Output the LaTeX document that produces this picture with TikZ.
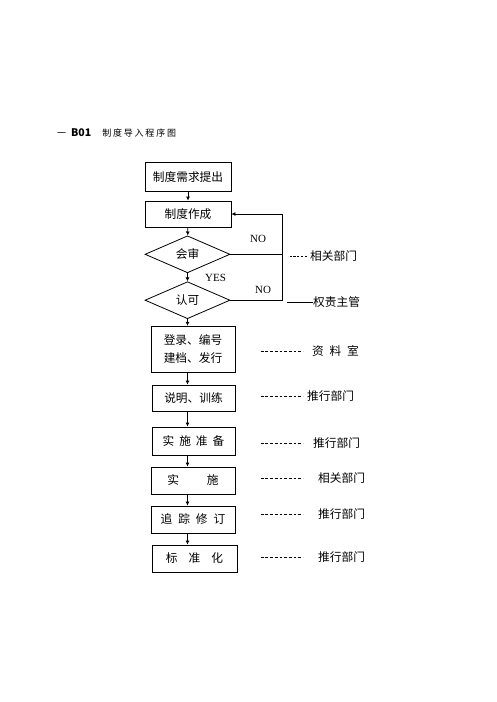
\documentclass[tikz,border=0pt]{standalone}
\usepackage{fontspec}
\setmainfont{Liberation Serif}
\newfontfamily\cjk{Noto Sans CJK SC}
\newfontfamily\cjktitle[LetterSpace=20]{Noto Sans CJK SC}
\usetikzlibrary{shapes.geometric,arrows.meta}

\begin{document}
\begin{tikzpicture}[x=1pt, y=-1pt]
\tikzset{every node/.style={font=\cjk\fontsize{11.7}{17.7}\selectfont, inner sep=0pt}}
\tikzset{stepbox/.style={draw, line width=0.8pt, minimum width=84pt, minimum height=27pt, align=center}}
\tikzset{check/.style={draw, diamond, line width=0.8pt, minimum width=85pt, minimum height=37pt}}
\tikzset{arr/.style={line width=0.8pt, -{Latex[length=4pt,width=4pt]}}}
\tikzset{dashln/.style={line width=0.6pt, dash pattern=on 2.8pt off 1.9pt}}
\tikzset{yesno/.style={font=\fontsize{11}{13}\selectfont}}
\tikzset{dept/.style={anchor=west}}
\useasboundingbox (0,0) rectangle (496,702);
% title
\node[anchor=west, font=\cjk\fontsize{9}{11}\selectfont] (title) at (57,133) {一\hspace{5pt}{\fontsize{10.5}{11}\selectfont\textbf{B01}}\hspace{11pt}{\cjktitle 制度导入程序图}};
% main column
\node[stepbox, minimum width=86pt, minimum height=29pt] (b1) at (188,176.7) {制度需求提出};
\node[stepbox, minimum width=86pt, minimum height=26pt] (b2) at (188,214) {制度作成};
\node[check] (d1) at (187.5,254.3) {会审};
\node[check] (d2) at (187.5,300.2) {认可};
\node[stepbox, minimum height=46pt] (b3) at (193,349.3) {登录、编号\\建档、发行};
\node[stepbox, minimum width=83pt, minimum height=26pt] (b4) at (193.5,398) {说明、训练};
\node[stepbox, minimum width=83pt, minimum height=28pt] (b5) at (193.5,441) {实\hspace{5pt}施\hspace{5pt}准\hspace{5pt}备};
\node[stepbox] (b6) at (193,480.5) {实\hspace{28pt}施};
\node[stepbox] (b7) at (193,519.5) {追\hspace{6pt}踪\hspace{6pt}修\hspace{6pt}订};
\node[stepbox, minimum width=85pt] (b8) at (194.5,558.5) {标\hspace{11pt}准\hspace{11pt}化};
% arrows
\draw[arr] (b1) -- (b2);
\draw[arr] (b2) -- (d1);
\draw[arr] (d1) -- (d2);
\draw[arr] (d2) -- (d2.south |- b3.north);
\draw[arr] (b3.south -| d2) -- (b4.north -| d2);
\draw[arr] (b4.south -| d2) -- (b5.north -| d2);
\draw[arr] (b5.south -| d2) -- (b6.north -| d2);
\draw[arr] (b6.south -| d2) -- (b7.north -| d2);
\draw[arr] (b7.south -| d2) -- (b8.north -| d2);
% NO loop
\coordinate (lp) at (282.3,0);
\draw[line width=0.8pt] (d1.east) -- (d1.east -| lp);
\draw[arr] (d2.east) -- (d2.east -| lp) |- (b2.east);
\node[yesno] (no1) at (258,239) {NO};
\node[yesno] (yes) at (215.5,278) {YES};
\node[yesno] (no2) at (263,289.5) {NO};
% departments
\node[dept] (l1) at (310,256) {相关部门};
\node[dept] (l2) at (313,302) {权责主管};
\node[dept] (l3) at (312,351) {资\hspace{5.8pt}料\hspace{5.8pt}室};
\node[dept] (l4) at (307,396) {推行部门};
\node[dept] (l5) at (313,443) {推行部门};
\node[dept] (l6) at (318,478) {相关部门};
\node[dept] (l7) at (318,514) {推行部门};
\node[dept] (l8) at (318,557) {推行部门};
\coordinate (dl) at (260.7,0);
\draw[dashln, dash pattern=on 2.2pt off 1.6pt] ([xshift=-3pt]l1.west) -- ++(-19,0);
\draw[line width=0.6pt] (l2.west) -- ++(-26,0);
\foreach \l in {l3,l4,l5,l6,l7,l8}
  \draw[dashln] (\l.west -| dl) -- ++(42.3,0);
\end{tikzpicture}
\end{document}
